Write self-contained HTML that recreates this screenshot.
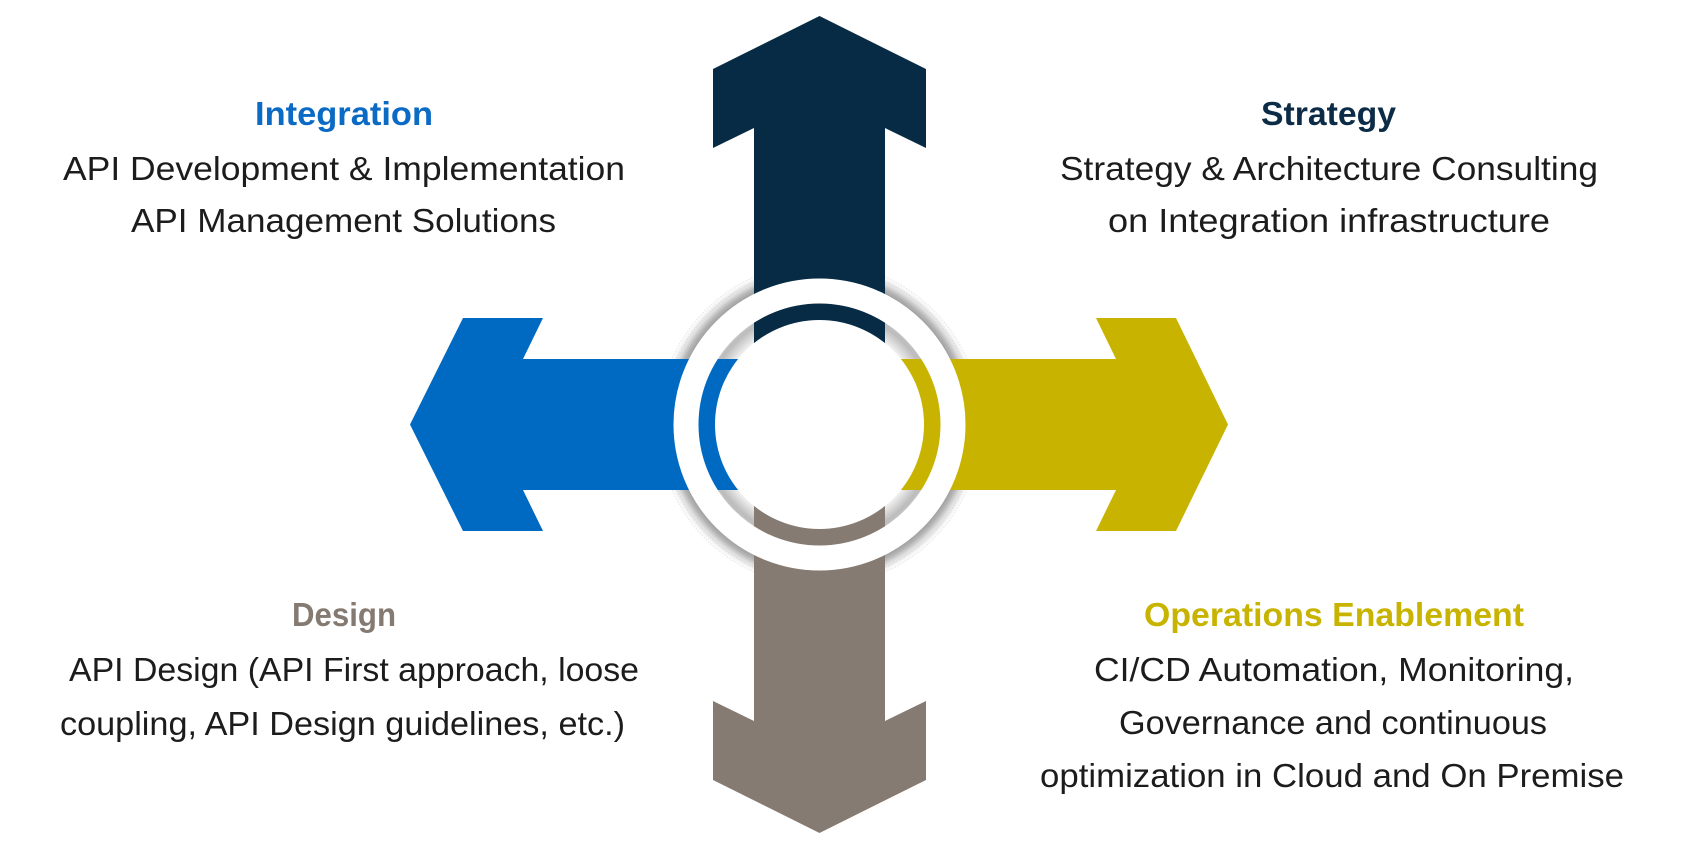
<!DOCTYPE html>
<html>
<head>
<meta charset="utf-8">
<style>
  html, body { margin: 0; padding: 0; background: #ffffff; }
  body { width: 1700px; height: 850px; overflow: hidden; }
  svg { display: block; }
  .t { font-family: "Liberation Sans", "DejaVu Sans", sans-serif; font-size: 33px; fill: #1c1c1c; }
  .h { font-family: "Liberation Sans", "DejaVu Sans", sans-serif; font-size: 33px; font-weight: bold; }
</style>
</head>
<body>
<svg width="1700" height="850" viewBox="0 0 1700 850" xmlns="http://www.w3.org/2000/svg">
  <defs>
    <radialGradient id="shade" gradientUnits="userSpaceOnUse" cx="819.5" cy="424.5" r="162">
      <stop offset="0" stop-color="#ffffff"/>
      <stop offset="0.645" stop-color="#f2f2f2"/>
      <stop offset="0.68" stop-color="#dadada"/>
      <stop offset="0.725" stop-color="#bcbcbc"/>
      <stop offset="0.75" stop-color="#c4c4c4"/>
      <stop offset="0.9" stop-color="#a0a0a0"/>
      <stop offset="0.925" stop-color="#b4b4b4"/>
      <stop offset="0.955" stop-color="#dedede"/>
      <stop offset="0.985" stop-color="#f8f8f8"/>
      <stop offset="1" stop-color="#ffffff"/>
    </radialGradient>
  </defs>

  <!-- shadow / shading base -->
  <circle cx="819.5" cy="424.5" r="162" fill="url(#shade)"/>
  <circle cx="819.5" cy="424.5" r="157" fill="none" stroke="#d4d4d4" stroke-width="0.8" stroke-dasharray="1.5 1.5"/>
  <circle cx="819.5" cy="424.5" r="161.5" fill="none" stroke="#e0e0e0" stroke-width="0.8" stroke-dasharray="1.5 1.5"/>

  <!-- arrows -->
  <polygon fill="#082b45" points="819.5,16 926,69 926,148 885,128 885,430 754,430 754,128 713,148 713,69"/>
  <polygon fill="#867b72" points="819.5,833 926,780 926,701 885,721 885,420 754,420 754,721 713,701 713,780"/>
  <polygon fill="#006ac3" points="410,424.5 463,318 543,318 523,359 820,359 820,490 523,490 543,531 463,531"/>
  <polygon fill="#c8b400" points="1228,424.5 1176,318 1096,318 1116,359 819,359 819,490 1116,490 1096,531 1176,531"/>

  <!-- white ring and inner disc -->
  <circle cx="819.5" cy="424.5" r="133.5" fill="none" stroke="#ffffff" stroke-width="25"/>
  <circle cx="819.5" cy="424.5" r="104.5" fill="#ffffff"/>

  <!-- Top-left: Integration -->
  <text class="h" x="255" y="125" fill="#0a6ac4" textLength="178" lengthAdjust="spacingAndGlyphs">Integration</text>
  <text class="t" x="63" y="180" textLength="562" lengthAdjust="spacingAndGlyphs">API Development &amp; Implementation</text>
  <text class="t" x="131" y="232" textLength="425" lengthAdjust="spacingAndGlyphs">API Management Solutions</text>

  <!-- Top-right: Strategy -->
  <text class="h" x="1261" y="125" fill="#0b2b46" textLength="135" lengthAdjust="spacingAndGlyphs">Strategy</text>
  <text class="t" x="1060" y="180" textLength="538" lengthAdjust="spacingAndGlyphs">Strategy &amp; Architecture Consulting</text>
  <text class="t" x="1108" y="232" textLength="442" lengthAdjust="spacingAndGlyphs">on Integration infrastructure</text>

  <!-- Bottom-left: Design -->
  <text class="h" x="292" y="626" fill="#857a71" textLength="104" lengthAdjust="spacingAndGlyphs">Design</text>
  <text class="t" x="69" y="681" textLength="570" lengthAdjust="spacingAndGlyphs">API Design (API First approach, loose</text>
  <text class="t" x="60" y="735" textLength="565" lengthAdjust="spacingAndGlyphs">coupling, API Design guidelines, etc.)</text>

  <!-- Bottom-right: Operations Enablement -->
  <text class="h" x="1144" y="626" fill="#c8b400" textLength="380" lengthAdjust="spacingAndGlyphs">Operations Enablement</text>
  <text class="t" x="1094" y="681" textLength="480" lengthAdjust="spacingAndGlyphs">CI/CD Automation, Monitoring,</text>
  <text class="t" x="1119" y="734" textLength="428" lengthAdjust="spacingAndGlyphs">Governance and continuous</text>
  <text class="t" x="1040" y="787" textLength="584" lengthAdjust="spacingAndGlyphs">optimization in Cloud and On Premise</text>
</svg>
</body>
</html>
